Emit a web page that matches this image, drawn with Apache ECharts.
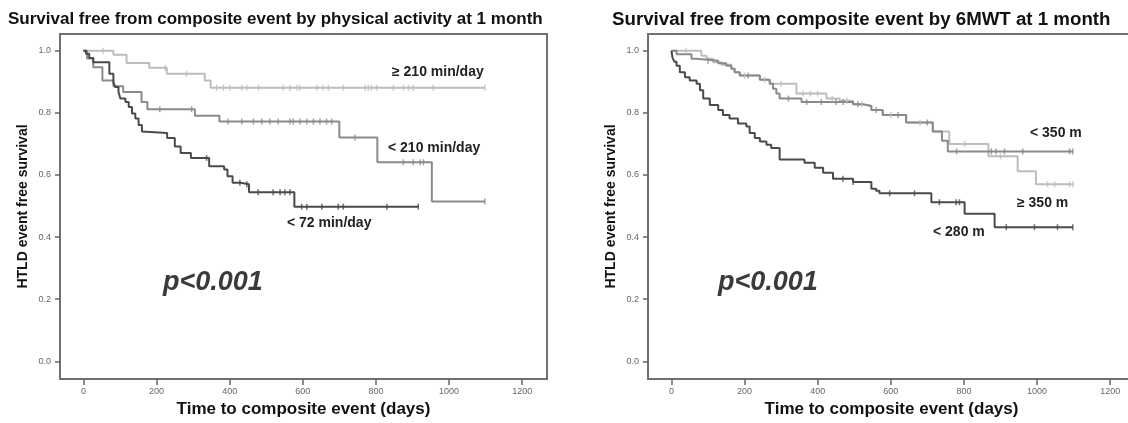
<!DOCTYPE html>
<html>
<head>
<meta charset="utf-8">
<script src="https://cdn.jsdelivr.net/npm/echarts@6/dist/echarts.min.js"></script>
<style>
  html, body { margin: 0; padding: 0; background: #fff; overflow: hidden; }
  #main { width: 1140px; height: 423px; }
</style>
</head>
<body>
<div id="main"></div>
<script>
// Kaplan-Meier steps (days, survival)
var pa210UpT = [0, 82, 118, 180, 228, 332, 348, 1098]
var pa210UpV = [1.0, 0.987, 0.961, 0.945, 0.926, 0.904, 0.881, 0.881]
var pa210UpCens = [54, 224, 282, 364, 383, 401, 433, 447, 479, 547, 565, 584, 592, 638, 656, 670, 711, 770, 779, 788, 802, 848, 875, 889, 902, 957, 1098]

var pa210DownT = [0, 10, 27, 52, 82, 109, 159, 175, 305, 372, 700, 804, 953, 1098]
var pa210DownV = [1.0, 0.975, 0.947, 0.904, 0.886, 0.867, 0.835, 0.812, 0.791, 0.772, 0.721, 0.641, 0.515, 0.515]
var pa210DownCens = [209, 296, 396, 433, 465, 488, 510, 533, 565, 574, 592, 611, 629, 647, 665, 679, 743, 875, 902, 921, 930, 1098]

var pa72T = [0, 7, 16, 27, 71, 82, 87, 96, 101, 115, 124, 133, 142, 151, 160, 165, 229, 250, 266, 294, 344, 385, 394, 408, 430, 453, 577, 916]
var pa72V = [1.0, 0.99, 0.977, 0.963, 0.926, 0.899, 0.883, 0.867, 0.846, 0.835, 0.819, 0.798, 0.782, 0.761, 0.740, 0.735, 0.719, 0.692, 0.671, 0.655, 0.628, 0.618, 0.596, 0.575, 0.570, 0.544, 0.498, 0.498]
var pa72Cens = [337, 428, 447, 478, 519, 538, 551, 565, 597, 611, 652, 697, 711, 830, 916]

var mw350UpT = [0, 82, 96, 114, 137, 164, 173, 187, 242, 269, 342, 424, 460, 497, 524, 547, 578, 642, 715, 760, 867, 947, 997, 1098]
var mw350UpV = [1.0, 0.984, 0.974, 0.963, 0.955, 0.942, 0.931, 0.920, 0.907, 0.894, 0.862, 0.846, 0.839, 0.828, 0.822, 0.809, 0.793, 0.769, 0.740, 0.700, 0.660, 0.612, 0.570, 0.570]
var mw350UpCens = [40, 200, 255, 300, 360, 380, 400, 440, 480, 520, 600, 680, 802, 900, 1029, 1048, 1089, 1098]

var mw350DownT = [0, 14, 55, 69, 128, 150, 164, 173, 187, 242, 269, 278, 287, 296, 356, 497, 524, 547, 578, 642, 715, 740, 756, 1098]
var mw350DownV = [1.0, 0.989, 0.974, 0.968, 0.960, 0.952, 0.942, 0.931, 0.920, 0.907, 0.894, 0.878, 0.862, 0.846, 0.835, 0.828, 0.822, 0.809, 0.793, 0.769, 0.740, 0.710, 0.676, 0.676]
var mw350DownCens = [100, 210, 320, 370, 410, 450, 470, 510, 560, 620, 700, 780, 875, 888, 911, 961, 1089, 1098]

var mw280T = [0, 3, 8, 14, 23, 37, 50, 69, 78, 87, 105, 128, 141, 159, 182, 205, 214, 228, 242, 260, 273, 296, 364, 392, 415, 442, 497, 547, 560, 569, 711, 802, 884, 1098]
var mw280V = [1.0, 0.978, 0.965, 0.952, 0.931, 0.915, 0.904, 0.894, 0.873, 0.846, 0.825, 0.809, 0.793, 0.782, 0.766, 0.756, 0.735, 0.719, 0.708, 0.697, 0.687, 0.650, 0.639, 0.623, 0.607, 0.588, 0.577, 0.556, 0.549, 0.541, 0.512, 0.475, 0.432, 0.432]
var mw280Cens = [469, 497, 597, 665, 733, 779, 788, 916, 993, 1056, 1098]

var xTicks = [0, 200, 400, 600, 800, 1000, 1200]
var yTicks = [0, 0.2, 0.4, 0.6, 0.8, 1.0]

var cLight = '#bdbdbd'
var cMid = '#8a8a8a'
var cDark = '#4a4a4a'
var font = 'Liberation Sans, Arial, sans-serif'

function pairs(ts, vs) {
  return ts.map(function (t, i) { return [t, vs[i]] })
}
function survAt(ts, vs, t) {
  var v = vs[0]
  for (var i = 0; i < ts.length; i++) {
    if (ts[i] <= t) v = vs[i]
  }
  return v
}
function censPoints(ts, vs, cens) {
  return cens.map(function (t) { return [t, survAt(ts, vs, t)] })
}

function xAxisFor(gi) {
  return {
    gridIndex: gi, type: 'value', min: -64, max: 1268,
    name: 'Time to composite event (days)', nameLocation: 'middle', nameGap: 22,
    nameTextStyle: { fontFamily: font, fontWeight: 'bold', fontSize: 17, color: '#111' },
    axisLine: { show: false, onZero: false },
    axisTick: { show: true, length: 6, customValues: xTicks, lineStyle: { color: '#666', width: 1.5 } },
    axisLabel: { customValues: xTicks, fontFamily: font, fontSize: 9, color: '#666', margin: 8,
      formatter: function (v) { return String(v) } },
    splitLine: { show: false }
  }
}
function yAxisFor(gi) {
  return {
    gridIndex: gi, type: 'value', min: -0.057, max: 1.054,
    name: 'HTLD event free survival', nameLocation: 'middle', nameGap: 30,
    nameTextStyle: { fontFamily: font, fontWeight: 'bold', fontSize: 14, color: '#111' },
    axisLine: { show: false, onZero: false },
    axisTick: { show: true, length: 5, customValues: yTicks, lineStyle: { color: '#666', width: 1.5 } },
    axisLabel: {
      customValues: yTicks, fontFamily: font, fontSize: 9, color: '#666', margin: 9,
      formatter: function (v) { return v.toFixed(1) }
    },
    splitLine: { show: false }
  }
}

function curve(name, gi, ts, vs, color) {
  return {
    name: name, type: 'line', step: 'end', xAxisIndex: gi, yAxisIndex: gi,
    data: pairs(ts, vs), showSymbol: false, symbol: 'none',
    lineStyle: { color: color, width: 2 }, silent: true, z: 3
  }
}
function marks(name, gi, ts, vs, cens, color) {
  return {
    name: name, type: 'scatter', xAxisIndex: gi, yAxisIndex: gi,
    data: censPoints(ts, vs, cens), symbol: 'rect', symbolSize: [1.5, 6],
    itemStyle: { color: color }, silent: true, z: 4
  }
}

function label(text, x, y, size, extra) {
  var st = { text: text, x: x, y: y, fill: '#222', font: 'bold ' + size + 'px ' + font, verticalAlign: 'middle' }
  if (extra) for (var k in extra) st[k] = extra[k]
  return { type: 'text', style: st, z: 10 }
}

var myChart = echarts.init(document.getElementById('main'), null, { renderer: 'canvas' })

var option = {
  backgroundColor: '#fff',
  animation: false,
  title: [
    { text: 'Survival free from composite event by physical activity at 1 month', left: 8, top: 11, padding: 0,
      textStyle: { fontFamily: font, fontWeight: 'bold', fontSize: 17, color: '#111' } },
    { text: 'Survival free from composite event by 6MWT at 1 month', left: 612, top: 10, padding: 0,
      textStyle: { fontFamily: font, fontWeight: 'bold', fontSize: 18.7, color: '#111' } }
  ],
  grid: [
    { left: 60, top: 34, width: 487, height: 348, show: true, borderColor: '#707070', borderWidth: 2, backgroundColor: 'transparent' },
    { left: 648, top: 34, width: 487, height: 348, show: true, borderColor: '#707070', borderWidth: 2, backgroundColor: 'transparent' }
  ],
  xAxis: [xAxisFor(0), xAxisFor(1)],
  yAxis: [yAxisFor(0), yAxisFor(1)],
  series: [
    curve('≥ 210 min/day', 0, pa210UpT, pa210UpV, cLight),
    marks('≥ 210 min/day', 0, pa210UpT, pa210UpV, pa210UpCens, cLight),
    curve('< 210 min/day', 0, pa210DownT, pa210DownV, cMid),
    marks('< 210 min/day', 0, pa210DownT, pa210DownV, pa210DownCens, cMid),
    curve('< 72 min/day', 0, pa72T, pa72V, cDark),
    marks('< 72 min/day', 0, pa72T, pa72V, pa72Cens, cDark),
    curve('≥ 350 m', 1, mw350UpT, mw350UpV, cLight),
    marks('≥ 350 m', 1, mw350UpT, mw350UpV, mw350UpCens, cLight),
    curve('< 350 m', 1, mw350DownT, mw350DownV, cMid),
    marks('< 350 m', 1, mw350DownT, mw350DownV, mw350DownCens, cMid),
    curve('< 280 m', 1, mw280T, mw280V, cDark),
    marks('< 280 m', 1, mw280T, mw280V, mw280Cens, cDark)
  ],
  graphic: [
    label('≥ 210 min/day', 392, 72, 14),
    label('< 210 min/day', 388, 148, 14),
    label('< 72 min/day', 287, 223, 14),
    label('< 350 m', 1030, 133, 14),
    label('≥ 350 m', 1017, 203, 14),
    label('< 280 m', 933, 232, 14),
    label('p<0.001', 163, 283, 27, { font: 'italic bold 27px ' + font, fill: '#3a3a3a' }),
    label('p<0.001', 718, 283, 27, { font: 'italic bold 27px ' + font, fill: '#3a3a3a' })
  ]
}
myChart.setOption(option)
</script>
</body>
</html>
